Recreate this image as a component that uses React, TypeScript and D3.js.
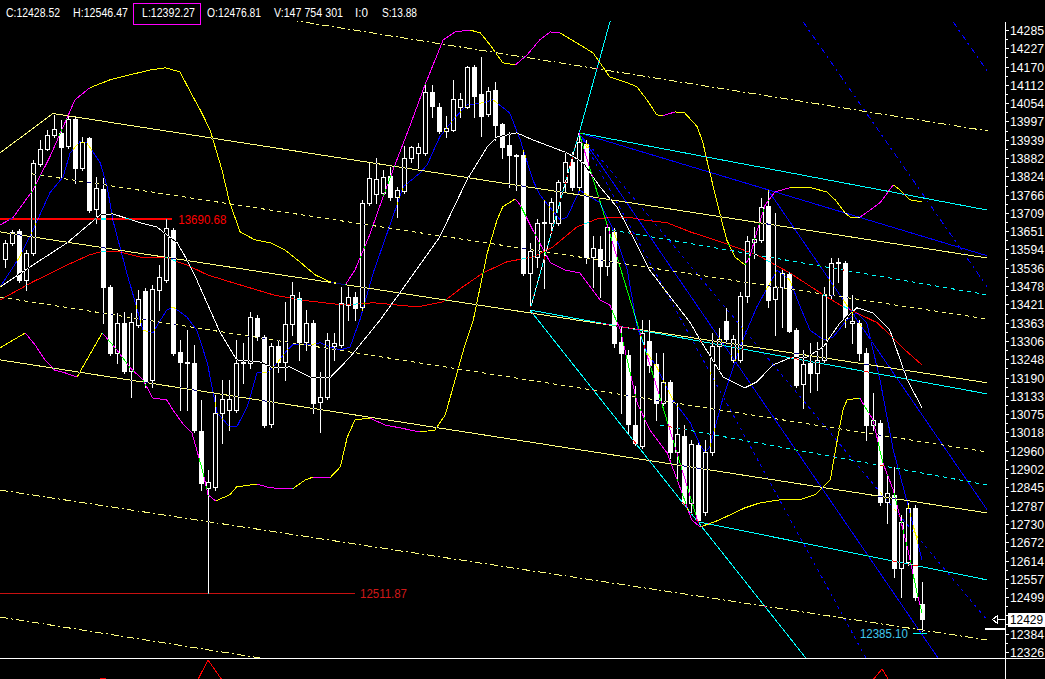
import React, { useEffect } from "react";
import * as d3 from "d3";

// ---------- DATA ----------
const tickLabels = [14285, 14227, 14170, 14112, 14054, 13997, 13939, 13882, 13824, 13766, 13709, 13651, 13594, 13536, 13478, 13421, 13363, 13306, 13248, 13190, 13133, 13075, 13018, 12960, 12902, 12845, 12787, 12730, 12672, 12614, 12557, 12499, 12442, 12384, 12326];

const opens = [13564, 13614, 13652, 13498, 13583, 13863, 13910, 13954, 13961, 13920, 14005, 13850, 13945, 13721, 13784, 13476, 13268, 13362, 13211, 13356, 13463, 13183, 13466, 13498, 13655, 13271, 13239, 13236, 13022, 12842, 12846, 13079, 13088, 13088, 13239, 13236, 13378, 13318, 13044, 13290, 13239, 13359, 13441, 13302, 13362, 13113, 13129, 13290, 13293, 13419, 13444, 13413, 13740, 13769, 13772, 13825, 13759, 13778, 13882, 13898, 13898, 14090, 14043, 13967, 13970, 14043, 14043, 14169, 14084, 14021, 14096, 13989, 13923, 13891, 13891, 13520, 13570, 13677, 13677, 13677, 13806, 13869, 13790, 13926, 13570, 13595, 13542, 13649, 13302, 13261, 13041, 12975, 13306, 13233, 13110, 13176, 12956, 13006, 12795, 12978, 12767, 12956, 13290, 13368, 13246, 13246, 13447, 13617, 13624, 13731, 13438, 13476, 13516, 13340, 13170, 13236, 13205, 13246, 13450, 13551, 13551, 13362, 13362, 13268, 13041, 13047, 12798, 12820, 12591, 12610, 12780, 12476.81];
const highs = [13624, 13655, 13658, 13592, 13876, 13939, 13970, 14017, 14002, 14017, 14011, 13948, 13948, 13822, 13819, 13482, 13394, 13397, 13394, 13466, 13472, 13482, 13545, 13690.68, 13661, 13309, 13340, 13293, 13120, 12900, 13135, 13183, 13183, 13309, 13299, 13397, 13388, 13324, 13299, 13309, 13428, 13491, 13460, 13403, 13372, 13208, 13331, 13331, 13476, 13476, 13460, 13750, 13866, 13882, 13844, 13854, 13791, 13920, 13920, 13929, 14115, 14112, 14055, 14014, 14128, 14087, 14172, 14175, 14200, 14106, 14121, 13992, 13964, 13893, 13907, 13614, 13690, 13750, 13756, 13813, 13901, 13901, 13961, 13939, 13636, 13636, 13674, 13661, 13350, 13277, 13164, 13372, 13372, 13268, 13268, 13183, 13110, 13041, 12994, 12984, 12994, 13331, 13346, 13409, 13324, 13460, 13636, 13665, 13756, 13781, 13709, 13529, 13523, 13346, 13277, 13299, 13302, 13476, 13567, 13567, 13557, 13450, 13372, 13283, 13142, 13057, 12884, 12909, 12757, 12795, 12789, 12546.47];
const lows = [13539, 13608, 13491, 13466, 13576, 13857, 13907, 13948, 13822, 13913, 13803, 13844, 13712, 13677, 13362, 13261, 13236, 13205, 13129, 13350, 13161, 13161, 13403, 13491, 13261, 13088, 13088, 13019, 12836, 12511.87, 12836, 12984, 13025, 13082, 13173, 13220, 13309, 13035, 13035, 13208, 13183, 13324, 13246, 13277, 13079, 13019, 13123, 13246, 13287, 13372, 13372, 13403, 13734, 13740, 13765, 13750, 13696, 13772, 13869, 13850, 13891, 14011, 13961, 13948, 13967, 14011, 14039, 14011, 13951, 14014, 13939, 13882, 13791, 13781, 13513, 13403, 13539, 13472, 13649, 13671, 13778, 13781, 13781, 13551, 13476, 13444, 13513, 13287, 13079, 13016, 12978, 12969, 13208, 13057, 13104, 12937, 12868, 12789, 12764, 12736, 12757, 12946, 13214, 13299, 13239, 13239, 13428, 13567, 13617, 13413, 13324, 13350, 13334, 13161, 13094, 13145, 13151, 13239, 13441, 13491, 13350, 13299, 13246, 12994, 13025, 12789, 12732, 12562, 12499, 12600, 12490, 12392.27];
const closes = [13614, 13649, 13498, 13583, 13866, 13910, 13954, 13973, 13917, 14005, 13850, 13932, 13718, 13787, 13476, 13268, 13362, 13211, 13365, 13438, 13176, 13469, 13507, 13661, 13268, 13239, 13236, 13025, 12858, 12861, 13079, 13123, 13123, 13236, 13237, 13381, 13321, 13041, 13290, 13239, 13359, 13450, 13302, 13362, 13110, 13129, 13309, 13299, 13425, 13444, 13410, 13740, 13819, 13816, 13822, 13759, 13781, 13882, 13917, 13917, 14090, 14046, 13967, 13976, 14068, 14068, 14169, 14077, 14014, 14093, 13986, 13917, 13891, 13888, 13520, 13589, 13677, 13680, 13743, 13806, 13869, 13790, 13932, 13570, 13598, 13542, 13665, 13299, 13268, 13044, 12984, 13331, 13230, 13110, 13176, 12956, 13013, 12795, 12981, 12742, 12956, 13290, 13312, 13312, 13312, 13447, 13620, 13627, 13728, 13435, 13476, 13520, 13337, 13167, 13233, 13205, 13246, 13450, 13551, 13554, 13378, 13368, 13268, 13041, 13057, 12798, 12827, 12591, 12735, 12780, 12499, 12428.52];

// indicator lines: [bar index, price]
const whiteMA: [number, number][] = [[-0.7, 13476], [4, 13545], [8.9, 13615], [13.6, 13703], [15.4, 13706], [19.3, 13678], [21.7, 13665], [23.1, 13640], [24.6, 13615], [26, 13561], [27.4, 13498], [30.7, 13334], [33.1, 13246], [36.4, 13240], [38.3, 13221], [40.7, 13224], [43.6, 13192], [46.4, 13189], [49.3, 13255], [53.6, 13372], [56.4, 13457], [62.1, 13633], [66, 13813], [68.9, 13917], [70.3, 13948], [73.1, 13961], [75.4, 13939], [80.3, 13898], [82.6, 13867], [85, 13791], [87.4, 13728], [89.7, 13633], [92.1, 13529], [94.6, 13457], [97.9, 13363], [99.3, 13309], [102.6, 13192], [105.7, 13158], [107.4, 13177], [109.7, 13230], [112.1, 13252], [114.6, 13255], [116.9, 13287], [119.3, 13363], [121.7, 13410], [124, 13394], [126.4, 13340], [128.9, 13183], [131, 13095]];
const blueMA: [number, number][] = [[-0.7, 13476], [2.1, 13570], [4, 13655], [6.4, 13772], [8.3, 13822], [9.3, 13898], [10.7, 13933], [11.7, 13929], [13.6, 13867], [14.6, 13791], [15.4, 13687], [17.4, 13520], [18.3, 13451], [19.7, 13340], [21.1, 13331], [23.1, 13403], [24, 13413], [26, 13381], [27.4, 13340], [28.9, 13237], [30.3, 13079], [32.1, 13035], [33.1, 13035], [34.6, 13098], [36, 13205], [37.4, 13205], [38.9, 13237], [40.3, 13277], [41.1, 13293], [43.6, 13293], [45, 13300], [46.4, 13287], [47.9, 13277], [49.3, 13287], [50.7, 13372], [52.6, 13520], [54.6, 13646], [56.9, 13791], [59.3, 13835], [60.3, 13860], [62.1, 13948], [64, 14002], [66, 14049], [68.3, 14056], [69.7, 14065], [72.1, 14024], [73.6, 13939], [75.4, 13813], [76.4, 13766], [79.3, 13687], [80.3, 13696], [82.1, 13781], [83.1, 13766], [85, 13741], [86.9, 13655], [88.9, 13529], [90.3, 13350], [91.7, 13268], [93.1, 13224], [95.4, 13120], [97.9, 13048], [99.3, 12978], [100, 12956], [100.7, 12972], [102.6, 13129], [105, 13287], [107.4, 13413], [110.3, 13529], [112.1, 13498], [113.6, 13413], [115, 13340], [116.9, 13309], [118.3, 13318], [120.3, 13372], [121.7, 13394], [123.1, 13363], [125, 13183], [126.9, 12962], [129, 12789], [131, 12616]];
const redMA: [number, number][] = [[-0.7, 13435], [4, 13492], [8.9, 13545], [12.1, 13577], [13.6, 13586], [16.4, 13586], [19.3, 13570], [23.1, 13567], [26, 13545], [28.9, 13514], [32.1, 13492], [38.3, 13451], [42.1, 13435], [48.3, 13419], [52.6, 13426], [58.9, 13413], [62.6, 13429], [65.4, 13476], [68.3, 13520], [71.7, 13555], [75.4, 13570], [78.3, 13602], [81.7, 13665], [84.6, 13690], [86.9, 13696], [88.9, 13696], [91.1, 13687], [94.6, 13678], [97.9, 13649], [102.6, 13615], [107.4, 13577], [112.1, 13520], [116.9, 13451], [119.3, 13419], [121.7, 13394], [124.6, 13363], [126.4, 13325], [128.6, 13277], [131, 13230]];
const bbUpper: [number, number][] = [[-0.7, 13671], [1.1, 13693], [4, 13781], [6.4, 13885], [10, 14065], [12.1, 14103], [15, 14128], [17.9, 14144], [20.7, 14159], [22.9, 14166], [25, 14153], [26.7, 14081], [27.9, 14033], [29.3, 13970], [31, 13844], [32.1, 13741], [33.6, 13649], [35.7, 13624], [37.9, 13615], [40, 13592], [42.1, 13555], [44.3, 13514], [46.4, 13492], [48.6, 13482], [50, 13529], [52.1, 13640], [53.6, 13734], [55.7, 13860], [57.9, 13986], [60, 14112], [62.6, 14254], [64.3, 14279], [66.4, 14285], [67.9, 14276], [69.3, 14238], [71.1, 14182], [72.9, 14175], [74.6, 14207], [76.4, 14254], [77.9, 14279], [79.3, 14276], [81.4, 14248], [84, 14213], [85.4, 14169], [86.4, 14137], [88.9, 14119], [90.3, 14106], [91.7, 14065], [93.1, 14018], [94, 14015], [95.7, 14027], [97.1, 14024], [98.9, 13980], [99.7, 13930], [100.7, 13835], [102.1, 13709], [103.1, 13624], [104.3, 13570], [105.7, 13545], [106.4, 13570], [107.4, 13649], [108.6, 13734], [110, 13775], [112.1, 13788], [115, 13789], [117.4, 13775], [118.6, 13750], [120, 13709], [120.7, 13696], [122.1, 13695], [123.6, 13718], [125, 13741], [126.9, 13797], [127.9, 13781], [129.3, 13750], [131, 13744]];
const bbLower: [number, number][] = [[-0.7, 13284], [2.9, 13331], [4.3, 13293], [5.7, 13246], [7.1, 13214], [8.6, 13205], [10.3, 13192], [12.1, 13262], [13.9, 13331], [16, 13277], [17.9, 13221], [19.7, 13183], [21.1, 13126], [23.1, 13120], [24, 13088], [25.3, 13048], [26.7, 13016], [27.4, 12962], [28.3, 12890], [29, 12821], [30.1, 12802], [32.1, 12821], [33.1, 12846], [36, 12855], [37.9, 12843], [41.1, 12840], [42.9, 12868], [44, 12877], [46.4, 12874], [47.9, 12909], [48.9, 13003], [50, 13057], [52.1, 13063], [54.3, 13041], [56.4, 13032], [59.3, 13019], [61.4, 13025], [62.9, 13073], [64.3, 13183], [65.7, 13293], [66.9, 13372], [68.9, 13583], [70.3, 13687], [71.1, 13728], [72.9, 13753], [73.6, 13734], [75.4, 13655], [77.9, 13552], [80, 13529], [82.1, 13520], [85, 13435], [86.4, 13419], [87.9, 13340], [90.3, 13111], [92.1, 13026], [94.6, 12953], [96.4, 12846], [98.1, 12742], [99.3, 12720], [101.4, 12736], [103.6, 12758], [105.7, 12780], [107.9, 12796], [110.7, 12805], [113.6, 12806], [115.7, 12821], [117.9, 12868], [118.9, 12994], [119.7, 13088], [120.3, 13120], [122.1, 13126], [124, 13057], [125.4, 12922], [126.9, 12836], [128.9, 12657], [130.3, 12512], [131, 12449]];
// bar ranges where the upper band is drawn as expanding
const upperExpanding = [[-1, 12.1], [48.6, 66.4], [72.9, 79.3], [94, 95.7], [105.7, 111.7], [122.1, 126.9]];
const lowerPane: [number, number][] = [[12, -4], [14, 1], [16, -4], [26, -8], [27.6, 0], [29, 19], [30.9, 0], [32, -8], [123.5, -5], [125.3, 10], [126.6, -5]];

// trend lines: [bar1, price1, bar2, price2]
const yellowSolid = [[-0.71, 13898, 6.86, 14022], [6.86, 14022, 140.3, 13567], [-0.71, 13649, 140.3, 13174], [-0.71, 13246, 140.3, 12764]];
const yellowMidDash = [[3.86, 13832, 140.3, 13375], [-0.71, 13444, 140.3, 12956]];
const yellowDashDot = [[40.7, 14317, 140.4, 13967], [-0.71, 12836, 140.3, 12364], [-0.71, 12436, 56.4, 12238]];
const cyanSolid = [[82, 13961, 140.3, 13718], [75, 13403, 140.3, 13139], [99, 12736, 140.3, 12553], [75, 13403, 86.5, 14317], [75, 13403, 114.4, 12307], [129.7, 12385.1, 131.7, 12385.1]];
const cyanDashed = [[86.71, 13655, 140.3, 13451], [93.57, 13041, 140.3, 12852]];
const greenSolid = [[82, 13961, 99, 12736]];
const redDashed = [[75, 13403, 82, 13961]];
const blueSolid = [[82, 13961, 140.3, 13574], [82, 13961, 133.3, 12307], [109, 13781, 140.3, 12774]];
const blueDashDot = [[114, 14311, 140.3, 13476], [135.43, 14311, 140.3, 14156]];
const blueDashed = [[82, 13961, 123, 12307], [82, 13961, 140.3, 12427]];

const levels = [
  { value: 13690.68, to: 23.9, label: "13690.68" },
  { value: 12511.87, to: 50, label: "12511.87" },
];
const lastMarkLevel = 12385.1;
const lastMarkLabel = "12385.10";
const lastPrice = 12429;

const header = [
  { t: "C:12428.52", x: 6, w: 54 },
  { t: "H:12546.47", x: 73, w: 55 },
  { t: "L:12392.27", x: 142, w: 53 },
  { t: "O:12476.81", x: 207, w: 54 },
  { t: "V:147 754 301", x: 274, w: 69 },
  { t: "I:0", x: 355, w: 13 },
  { t: "S:13.88", x: 382, w: 35 },
];

// ---------- CHART ----------
const W = 1045;
const H = 679;
const AXIS_X = 1005;
const FONT = "'Liberation Sans', Arial, sans-serif";
const YEL = "#ffff00";
const PALE = "#ffff80";
const MAG = "#ff00ff";
const CYAN = "#00ffff";
const BLUE = "#0000ff";
const HSCALE = 0.8;

export default function App() {
  useEffect(() => {
    document.body.style.margin = "0";
    document.body.style.background = "#000";
  }, []);

  const xS = d3.scaleLinear().domain([0, 131]).range([5, 922]);
  const yS = d3.scaleLinear().domain([12326, 14285]).range([652, 30]);
  const paneY = d3.scaleLinear().domain([0, 20]).range([679, 659]);

  const line = d3
    .line<[number, number]>()
    .x((d) => xS(d[0]))
    .y((d) => yS(d[1]));
  const paneLine = d3
    .line<[number, number]>()
    .x((d) => xS(d[0]))
    .y((d) => paneY(d[1]));

  const blend: React.CSSProperties = { mixBlendMode: "difference" };

  type Run = { color: string; pts: [number, number][] };
  const pushRun = (runs: Run[], col: string, a: [number, number], b: [number, number]) => {
    const last = runs[runs.length - 1];
    if (last && last.color === col) last.pts.push(b);
    else runs.push({ color: col, pts: [a, b] });
  };
  const upperRuns = () => {
    const runs: Run[] = [];
    for (let k = 1; k < bbUpper.length; k++) {
      const a = bbUpper[k - 1];
      const b = bbUpper[k];
      const mid = (a[0] + b[0]) / 2;
      const exp = upperExpanding.some((r) => mid >= r[0] && mid <= r[1]);
      pushRun(runs, exp ? MAG : YEL, a, b);
    }
    return runs;
  };
  const lowerRuns = () => {
    const runs: Run[] = [];
    let prev = YEL;
    for (let k = 1; k < bbLower.length; k++) {
      const a = bbLower[k - 1];
      const b = bbLower[k];
      let col = prev;
      if (b[1] > a[1]) col = YEL;
      else if (b[1] < a[1]) col = MAG;
      pushRun(runs, col, a, b);
      prev = col;
    }
    return runs;
  };

  const seg = (s: number[], color: string, dash: string | undefined, key: string) => (
    <line
      key={key}
      x1={xS(s[0])}
      y1={yS(s[1])}
      x2={xS(s[2])}
      y2={yS(s[3])}
      stroke={color}
      strokeWidth={1}
      strokeDasharray={dash}
      style={blend}
    />
  );

  const candles = opens.map((o, i) => {
    const c = closes[i];
    const cx = Math.round(xS(i));
    const yo = yS(o);
    const yc = yS(c);
    const top = Math.round(Math.min(yo, yc));
    const bot = Math.round(Math.max(yo, yc));
    const yh = Math.round(yS(highs[i]));
    const yl = Math.round(yS(lows[i]));
    const down = c < o;
    return (
      <g key={"c" + i}>
        <line x1={cx + 0.5} x2={cx + 0.5} y1={yh} y2={yl + 1} stroke="#fff" />
        {down ? (
          <rect x={cx - 2} y={top} width={5} height={Math.max(1, bot - top + 1)} fill="#fff" />
        ) : (
          <rect x={cx - 1.5} y={top + 0.5} width={4} height={Math.max(1, bot - top)} fill="#000" stroke="#fff" />
        )}
      </g>
    );
  });

  const boxY = yS(lastPrice);
  const priceTicks = tickLabels.filter((v) => Math.abs(yS(v) - boxY) > 9);
  const lv0y = Math.round(yS(levels[0].value));
  const lv1y = Math.round(yS(levels[1].value));

  return (
    <div style={{ position: "fixed", left: 0, top: 0, width: W, height: H, background: "#000" }}>
      <svg width={W} height={H} style={{ display: "block" }} shapeRendering="crispEdges">
        <defs>
          <clipPath id="plotClip">
            <rect x={0} y={21} width={AXIS_X} height={637} />
          </clipPath>
          <clipPath id="paneClip">
            <rect x={0} y={659} width={AXIS_X} height={20} />
          </clipPath>
        </defs>
        <rect x={0} y={0} width={W} height={H} fill="#000" />

        <g clipPath="url(#plotClip)">
          <rect x={0} y={0} width={W} height={H} fill="#000" />
          {candles}

          {/* level lines */}
          <rect x={0} y={lv0y - 1} width={xS(levels[0].to)} height={2} fill="#ff0000" style={blend} />
          <line x1={0} x2={xS(levels[1].to)} y1={lv1y + 0.5} y2={lv1y + 0.5} stroke="#c81010" style={blend} />

          {yellowSolid.map((s, k) => seg(s, PALE, undefined, "ys" + k))}
          {yellowMidDash.map((s, k) => seg(s, PALE, "4,4", "ym" + k))}
          {yellowDashDot.map((s, k) => seg(s, PALE, "8,3,2,3", "yd" + k))}
          {cyanSolid.map((s, k) => seg(s, CYAN, undefined, "cs" + k))}
          {cyanDashed.map((s, k) => seg(s, CYAN, "4,4", "cd" + k))}
          {greenSolid.map((s, k) => seg(s, "#00ff00", undefined, "gs" + k))}
          {redDashed.map((s, k) => seg(s, "#ff0000", "3,4", "rd" + k))}
          {blueSolid.map((s, k) => seg(s, BLUE, undefined, "bs" + k))}
          {blueDashDot.map((s, k) => seg(s, BLUE, "6,4,2,4", "bdd" + k))}
          {blueDashed.map((s, k) => seg(s, BLUE, "3,4", "bd" + k))}

          {/* moving averages */}
          <path d={line(redMA) || ""} fill="none" stroke="#ff0000" style={blend} />
          <path d={line(whiteMA) || ""} fill="none" stroke="#ffffff" style={blend} />
          <path d={line(blueMA) || ""} fill="none" stroke={BLUE} style={blend} />

          {/* bands */}
          {upperRuns().map((r, k) => (
            <path key={"bu" + k} d={line(r.pts) || ""} fill="none" stroke={r.color} style={blend} />
          ))}
          {lowerRuns().map((r, k) => (
            <path key={"bl" + k} d={line(r.pts) || ""} fill="none" stroke={r.color} style={blend} />
          ))}
        </g>

        {/* level labels */}
        <text x={xS(levels[0].to) + 6} y={lv0y + 5} fill="#ff0000" fontFamily={FONT} fontSize={12} textLength={48} lengthAdjust="spacingAndGlyphs">
          {levels[0].label}
        </text>
        <text x={xS(levels[1].to) + 5} y={lv1y + 5} fill="#d01818" fontFamily={FONT} fontSize={12} textLength={47} lengthAdjust="spacingAndGlyphs">
          {levels[1].label}
        </text>
        <text x={xS(129.7) - 5} y={Math.round(yS(lastMarkLevel)) + 5} textAnchor="end" fill="#40c8ee" fontFamily={FONT} fontSize={12} textLength={48} lengthAdjust="spacingAndGlyphs">
          {lastMarkLabel}
        </text>

        {/* lower pane */}
        <line x1={0} x2={W} y1={658.5} y2={658.5} stroke="#fff" />
        <g clipPath="url(#paneClip)">
          <path d={paneLine(lowerPane) || ""} fill="none" stroke="#ff0000" />
        </g>

        {/* price axis */}
        <line x1={AXIS_X + 0.5} x2={AXIS_X + 0.5} y1={22} y2={H} stroke="#fff" />
        {tickLabels.map((v, k) => {
          const ty = Math.round(yS(v)) + 0.5;
          const next = tickLabels[k + 1];
          const my = next !== undefined ? Math.round((yS(v) + yS(next)) / 2) + 0.5 : null;
          return (
            <g key={"t" + k}>
              <line x1={AXIS_X} x2={AXIS_X + 4} y1={ty} y2={ty} stroke="#fff" />
              {my !== null && <line x1={AXIS_X} x2={AXIS_X + 3} y1={my} y2={my} stroke="#fff" />}
            </g>
          );
        })}
        {priceTicks.map((v) => (
          <text key={"l" + v} x={1010} y={Math.round(yS(v)) + 4.5} fill="#fff" fontFamily={FONT} fontSize={12} textLength={34} lengthAdjust="spacingAndGlyphs">
            {v}
          </text>
        ))}

        {/* last price marker */}
        <rect x={1008} y={Math.round(boxY) - 6} width={37} height={14} fill="#fff" />
        <text x={1010} y={Math.round(boxY) + 5} fill="#000" fontFamily={FONT} fontSize={12} textLength={33} lengthAdjust="spacingAndGlyphs">
          {lastPrice}
        </text>
        <path d={`M997.5,${Math.round(boxY) - 3.5} L992.5,${Math.round(boxY) + 0.5} L997.5,${Math.round(boxY) + 4.5} Z`} fill="none" stroke="#fff" />
        <line x1={997} x2={AXIS_X} y1={Math.round(boxY) + 0.5} y2={Math.round(boxY) + 0.5} stroke="#fff" />
        <rect x={985} y={Math.round(boxY) + 9} width={20} height={2} fill="#fff" />

        {/* header */}
        {header.map((h) => (
          <text
            key={h.t}
            transform={`translate(${h.x},17) scale(${HSCALE},1)`}
            x={0}
            y={0}
            fill="#fff"
            fontFamily={FONT}
            fontSize={13}
            textLength={h.w / HSCALE}
            lengthAdjust="spacingAndGlyphs"
          >
            {h.t}
          </text>
        ))}
        <rect x={133.5} y={3.5} width={67} height={21} fill="none" stroke={MAG} />
      </svg>
    </div>
  );
}
